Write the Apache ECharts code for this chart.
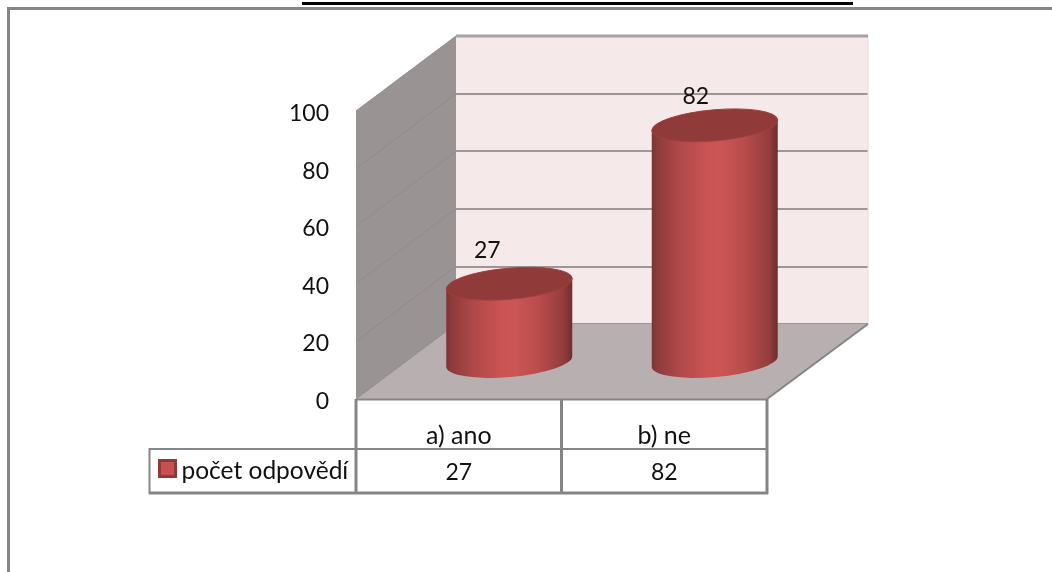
<!DOCTYPE html>
<html>
<head>
<meta charset="utf-8">
<style>
html,body{margin:0;padding:0;background:#fff;}
#chart{width:1052px;height:572px;}
</style>
<script src="https://cdn.jsdelivr.net/npm/echarts@6/dist/echarts.min.js"></script>
</head>
<body>
<div id="chart"></div>
<script>
const categories = ['a) ano', 'b) ne'];
const seriesName = 'počet odpovědí';
const values = [27, 82];
const yTicks = [0, 20, 40, 60, 80, 100];

// 3d look: how far the back wall sits from the front plane
const depthX = 100, depthY = -75;
const font = 'Lato';
const lineGrey = '#858585';
const textColor = '#111';

function cylinder(params, api) {
    let i = params.dataIndex;
    let front = api.coord([api.value(0), api.value(1)]);
    let zero = api.coord([api.value(0), 0]);
    let cx = front[0] + depthX / 2 + 0.5, rx = 63, ry = 15.5, tilt = -5;
    let topY = front[1] + depthY / 2, baseY = zero[1] + depthY / 2;
    let dy = rx * Math.sin(5 * Math.PI / 180);
    let l = cx - rx, r = cx + rx;
    let arc = `A${rx} ${ry} ${tilt} 0 0`;
    return {
        type: 'group',
        children: [{
            type: 'path',
            shape: {pathData: `M${l} ${topY + dy}L${l} ${baseY + dy}${arc} ${r} ${baseY - dy}L${r} ${topY - dy}Z`},
            style: {
                fill: new echarts.graphic.LinearGradient(0, 0, 1, 0, [
                    {offset: 0, color: '#7a3333'},
                    {offset: 0.04, color: '#8c3a3a'},
                    {offset: 0.2, color: '#ad4747'},
                    {offset: 0.42, color: '#c95252'},
                    {offset: 0.55, color: '#cc5555'},
                    {offset: 0.74, color: '#b84b4b'},
                    {offset: 0.93, color: '#933c3c'},
                    {offset: 1, color: '#6e2d2d'}
                ])
            }
        }, {
            type: 'path',
            shape: {pathData: `M${l} ${topY + dy}${arc} ${r} ${topY - dy}${arc} ${l} ${topY + dy}Z`},
            style: {fill: '#913a3a', stroke: '#a04040', lineWidth: 1}
        }, {
            type: 'text',
            style: {
                text: String(api.value(1)),
                x: cx + [-22, -19][i], y: topY + [-33, -29][i],
                align: 'center', verticalAlign: 'middle',
                font: '23px ' + font, fill: textColor
            }
        }, {
            // value row of the data table
            type: 'text',
            style: {
                text: String(api.value(1)),
                x: front[0], y: 473,
                align: 'center', verticalAlign: 'middle',
                font: '23px ' + font, fill: textColor
            }
        }]
    };
}

function frame(params, api) {
    let g = params.coordSys;
    let x0 = g.x, x1 = g.x + g.width, xm = g.x + g.width / 2;
    let y0 = g.y + g.height, y1 = g.y;
    let children = [{
        type: 'polygon',
        shape: {points: [[x0, y0], [x0, y1], [x0 + depthX, y1 + depthY], [x0 + depthX, y0 + depthY]]},
        style: {fill: '#999493'}
    }, {
        type: 'polygon',
        shape: {points: [[x0, y0], [x0 + depthX, y0 + depthY], [x1 + depthX + 1, y0 + depthY], [x1, y0]]},
        style: {fill: '#b8b0b0'}
    }, {
        // light right edge and heavier top edge of the back wall
        type: 'line',
        shape: {x1: x1 + depthX + 1, y1: y1 + depthY, x2: x1 + depthX + 1, y2: y0 + depthY},
        style: {stroke: '#e2dcdc', lineWidth: 1}
    }, {
        type: 'line',
        shape: {x1: x0 + depthX, y1: y1 + depthY, x2: x1 + depthX + 1, y2: y1 + depthY},
        style: {stroke: '#a3a3a3', lineWidth: 3}
    }];
    yTicks.forEach(function (t) {
        let y = api.coord([0, t])[1];
        children.push({
            type: 'line',
            shape: {x1: x0, y1: y, x2: x0 + depthX, y2: y + depthY},
            style: {stroke: '#8f8b8a', lineWidth: 1}
        });
    });
    // right edge of the floor and the data table
    let lines = [
        [x1, y0, x1 + depthX + 1, y0 + depthY, 2],
        [x0, y0 + 0.5, x1, y0 + 0.5, 2],
        [x0, y0, x0, 494, 3],
        [xm, y0, xm, 494, 3],
        [x1, y0, x1, 494, 3],
        [149, 449, x1, 449, 2],
        [149, 493, x1 + 1, 493, 3],
        [149.5, 448, 149.5, 494, 2]
    ];
    lines.forEach(function (p) {
        children.push({
            type: 'line',
            shape: {x1: p[0], y1: p[1], x2: p[2], y2: p[3]},
            style: {stroke: lineGrey, lineWidth: p[4]}
        });
    });
    return {type: 'group', children: children};
}

let chart = echarts.init(document.getElementById('chart'));
chart.setOption({
    animation: false,
    backgroundColor: '#fff',
    textStyle: {fontFamily: font},
    legend: {
        left: 158, top: 459,
        padding: 0,
        data: [{name: seriesName, icon: 'rect'}],
        itemWidth: 16, itemHeight: 16,
        itemStyle: {color: '#c85050', borderColor: '#8f3a3a', borderWidth: 3},
        formatter: '{a|{name}}',
        textStyle: {
            rich: {a: {fontFamily: font, fontSize: 24.5, color: textColor, padding: [6, 0, 0, 1]}}
        }
    },
    grid: [
        {left: 356, top: 111, width: 411, height: 288},
        {left: 456, top: 36, width: 412, height: 288, show: true, backgroundColor: '#f5e9e9', borderWidth: 0}
    ],
    xAxis: [
        {
            type: 'category', gridIndex: 0, data: categories,
            axisLine: {show: false}, axisTick: {show: false},
            axisLabel: {fontFamily: font, fontSize: 25, color: textColor, margin: 24}
        },
        {
            type: 'category', gridIndex: 1, data: categories,
            axisLine: {show: false}, axisTick: {show: false}, axisLabel: {show: false}
        }
    ],
    yAxis: [
        {
            type: 'value', gridIndex: 0, min: 0, max: 100, interval: 20,
            axisLine: {show: false}, axisTick: {show: false}, splitLine: {show: false},
            axisLabel: {
                margin: 27,
                formatter: '{a|{value}}',
                rich: {a: {fontFamily: font, fontSize: 23, color: textColor, padding: [5, 0, 0, 0]}}
            }
        },
        {
            type: 'value', gridIndex: 1, min: 0, max: 100, interval: 20,
            axisLine: {show: false}, axisTick: {show: false}, axisLabel: {show: false},
            splitLine: {lineStyle: {color: '#9c9696', width: 2}}
        }
    ],
    graphic: [
        {type: 'line', shape: {x1: 7, y1: 8.5, x2: 1052, y2: 8.5}, style: {stroke: lineGrey, lineWidth: 3}, z: 10},
        {type: 'line', shape: {x1: 8.5, y1: 8.5, x2: 8.5, y2: 572}, style: {stroke: lineGrey, lineWidth: 3}, z: 10},
        {type: 'line', shape: {x1: 302, y1: 3.5, x2: 853, y2: 3.5}, style: {stroke: '#000', lineWidth: 3}, z: 10}
    ],
    series: [
        {
            type: 'custom', name: 'frame', xAxisIndex: 0, yAxisIndex: 0,
            coordinateSystem: 'cartesian2d', renderItem: frame, data: [[0, 0]], z: 1, silent: true,
            clip: false
        },
        {
            type: 'custom', name: seriesName, xAxisIndex: 0, yAxisIndex: 0,
            coordinateSystem: 'cartesian2d', renderItem: cylinder, z: 3,
            clip: false,
            itemStyle: {color: '#c85050'},
            encode: {x: 0, y: 1},
            data: values.map(function (v, i) { return [i, v]; })
        }
    ]
});
</script>
</body>
</html>
